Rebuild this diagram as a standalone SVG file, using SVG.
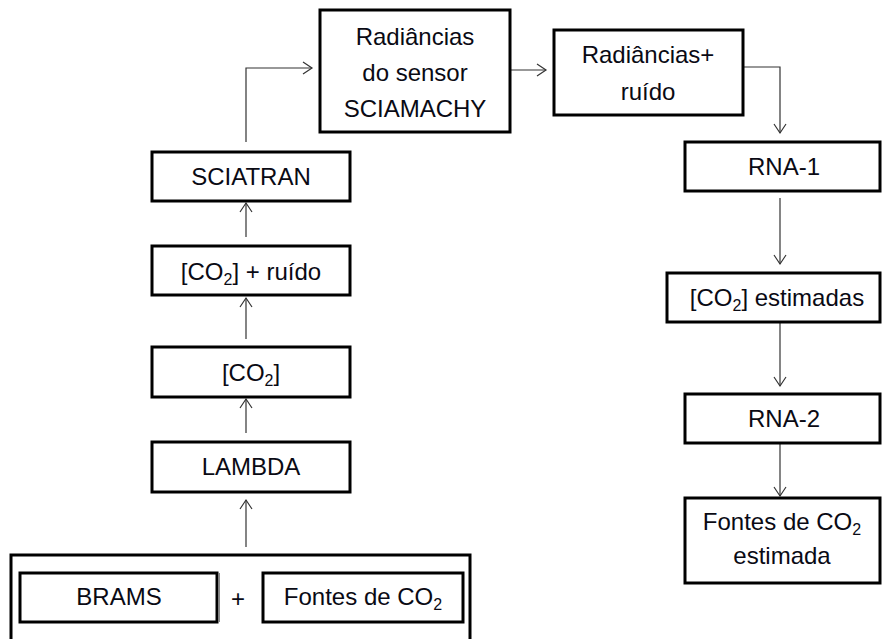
<svg xmlns="http://www.w3.org/2000/svg" width="882" height="639" viewBox="0 0 882 639">
  <style>
    .box { fill: #ffffff; stroke: #000000; stroke-width: 3; }
    .lbl { font-family: "Liberation Sans", Arial, sans-serif; font-size: 24px; fill: #0a0a14; text-anchor: middle; }
    .sub { font-size: 16px; }
    .wire { fill: none; stroke: #333333; stroke-width: 1.2; }
  </style>
  <defs>
    <marker id="arrow" markerUnits="userSpaceOnUse" markerWidth="12" markerHeight="14" refX="10" refY="7" orient="auto">
      <path d="M1,1 L10,7 L1,13" fill="none" stroke="#333333" stroke-width="1.2"/>
    </marker>
  </defs>

  <rect width="882" height="639" fill="#ffffff"/>

  <!-- connectors -->
  <g id="connectors">
    <line class="wire" x1="246" y1="547" x2="246" y2="500" marker-end="url(#arrow)"/>
    <line class="wire" x1="246" y1="433" x2="246" y2="399" marker-end="url(#arrow)"/>
    <line class="wire" x1="246" y1="339" x2="246" y2="298" marker-end="url(#arrow)"/>
    <line class="wire" x1="246" y1="237" x2="246" y2="203" marker-end="url(#arrow)"/>
    <polyline class="wire" points="246,142 246,68 312,68" marker-end="url(#arrow)"/>
    <line class="wire" x1="511" y1="70" x2="546" y2="70" marker-end="url(#arrow)"/>
    <polyline class="wire" points="744,67 780,67 780,133" marker-end="url(#arrow)"/>
    <line class="wire" x1="780" y1="198" x2="780" y2="264" marker-end="url(#arrow)"/>
    <line class="wire" x1="780" y1="323" x2="780" y2="386" marker-end="url(#arrow)"/>
    <line class="wire" x1="780" y1="444" x2="780" y2="496" marker-end="url(#arrow)"/>
  </g>

  <!-- left column -->
  <g id="inputs">
    <rect class="box" x="11" y="555" width="459" height="95"/>
  </g>
  <g id="brams">
    <rect class="box" x="20" y="573" width="197" height="49"/>
    <line x1="219.5" y1="573" x2="219.5" y2="622" stroke="#888888" stroke-width="1"/>
    <text class="lbl" x="119" y="605">BRAMS</text>
  </g>
  <g id="plus">
    <text class="lbl" x="238" y="607">+</text>
  </g>
  <g id="fontes">
    <rect class="box" x="263" y="573" width="200" height="49"/>
    <text class="lbl" x="363" y="605">Fontes de CO<tspan class="sub" dy="5">2</tspan></text>
  </g>
  <g id="lambda">
    <rect class="box" x="152" y="442" width="198" height="50"/>
    <text class="lbl" x="251" y="475">LAMBDA</text>
  </g>
  <g id="co2">
    <rect class="box" x="152" y="347" width="198" height="50"/>
    <text class="lbl" x="251" y="381">[CO<tspan class="sub" dy="5">2</tspan><tspan dy="-5">]</tspan></text>
  </g>
  <g id="co2-ruido">
    <rect class="box" x="152" y="246" width="198" height="49"/>
    <text class="lbl" x="251" y="280">[CO<tspan class="sub" dy="5">2</tspan><tspan dy="-5">] + ruído</tspan></text>
  </g>
  <g id="sciatran">
    <rect class="box" x="152" y="152" width="198" height="49"/>
    <text class="lbl" x="251" y="185">SCIATRAN</text>
  </g>

  <!-- top row -->
  <g id="sciamachy">
    <rect class="box" x="320" y="10" width="190" height="122"/>
    <text class="lbl" x="415" y="45">Radiâncias</text>
    <text class="lbl" x="415" y="81">do sensor</text>
    <text class="lbl" x="415" y="117">SCIAMACHY</text>
  </g>
  <g id="radiancias-ruido">
    <rect class="box" x="554" y="30" width="189" height="85"/>
    <text class="lbl" x="648" y="63">Radiâncias+</text>
    <text class="lbl" x="648" y="100">ruído</text>
  </g>

  <!-- right column -->
  <g id="rna1">
    <rect class="box" x="685" y="142" width="195" height="49"/>
    <text class="lbl" x="784" y="175">RNA-1</text>
  </g>
  <g id="co2-estimadas">
    <rect class="box" x="667" y="273" width="213" height="49"/>
    <text class="lbl" x="777" y="306">[CO<tspan class="sub" dy="5">2</tspan><tspan dy="-5">] estimadas</tspan></text>
  </g>
  <g id="rna2">
    <rect class="box" x="685" y="394" width="195" height="49"/>
    <text class="lbl" x="784" y="427">RNA-2</text>
  </g>
  <g id="fontes-estimada">
    <rect class="box" x="685" y="498" width="195" height="85"/>
    <text class="lbl" x="782" y="530">Fontes de CO<tspan class="sub" dy="5">2</tspan></text>
    <text class="lbl" x="782" y="564">estimada</text>
  </g>
</svg>
